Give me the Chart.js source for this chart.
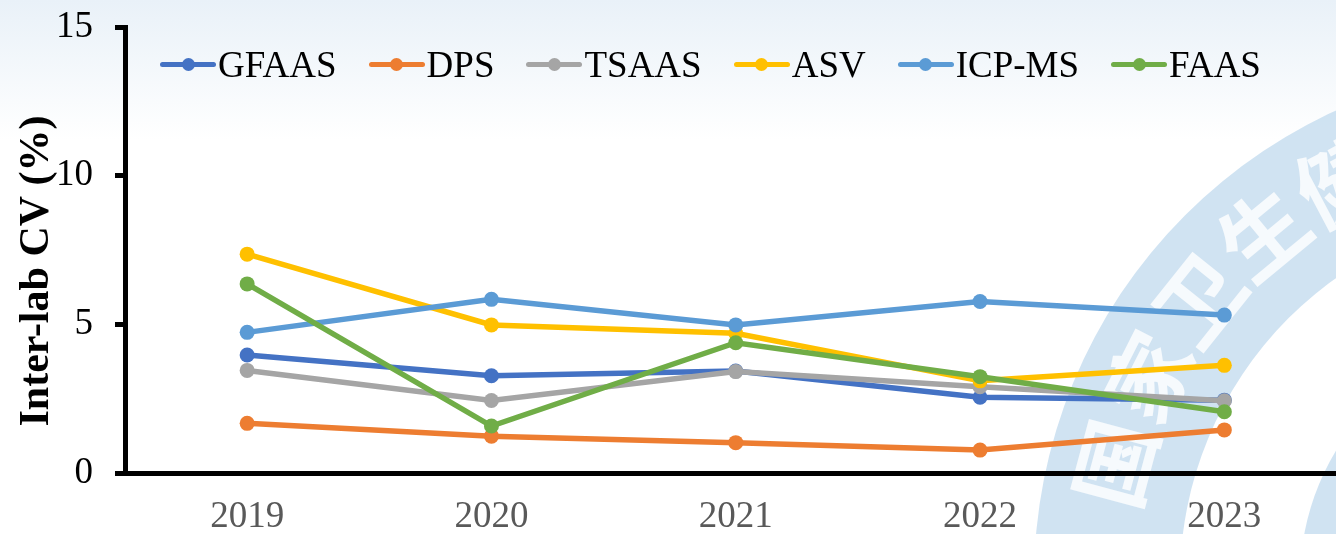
<!DOCTYPE html>
<html>
<head>
<meta charset="utf-8">
<script src="https://cdn.jsdelivr.net/npm/chart.js@4.4.1/dist/chart.umd.min.js"></script>
<style>
  html, body { margin: 0; padding: 0; overflow: hidden; background: #fff; }
  #wrap { position: relative; width: 1354px; height: 534px; }
  #legend { position: absolute; left: 160px; top: 42px; height: 44px; display: flex; align-items: center;
            font: 37px "Liberation Serif", "Times New Roman", serif; color: #000; white-space: nowrap; }
  .item { display: flex; align-items: center; margin-right: 32px; }
  .mark { position: relative; width: 56px; height: 13px; margin-right: 2px; }
  .mark .ln { position: absolute; left: 0; top: 4px; width: 56px; height: 5px; border-radius: 2.5px; }
  .mark .dt { position: absolute; left: 21.5px; top: 0; width: 13px; height: 13px; border-radius: 50%; }
</style>
</head>
<body>
<div id="wrap">
  <canvas id="cvChart" width="1354" height="534"></canvas>
  <div id="legend"></div>
</div>
<script>
// data
const years = ['2019', '2020', '2021', '2022', '2023'];
const seriesNames = ['GFAAS', 'DPS', 'TSAAS', 'ASV', 'ICP-MS', 'FAAS'];
const gfaas = [3.97, 3.27, 3.43, 2.55, 2.45];
const dps   = [1.67, 1.24, 1.02, 0.77, 1.45];
const tsaas = [3.45, 2.44, 3.41, 2.90, 2.43];
const asv   = [7.36, 4.98, 4.70, 3.10, 3.62];
const icpms = [4.73, 5.84, 4.98, 5.77, 5.31];
const faas  = [6.36, 1.58, 4.38, 3.24, 2.06];
const yTicks = [0, 5, 10, 15];
const colors = ['#4472C4', '#ED7D31', '#A5A5A5', '#FFC000', '#5B9BD5', '#70AD47'];
const allValues = [gfaas, dps, tsaas, asv, icpms, faas];

// faint seal watermark + light top wash behind the plot
const backdrop = {
  id: 'backdrop',
  beforeDraw(chart){
    const ctx = chart.ctx, w = chart.width, h = chart.height;
    ctx.save();
    const g = ctx.createLinearGradient(0, 0, 0, 140);
    g.addColorStop(0, '#e9f1f8');
    g.addColorStop(1, '#ffffff');
    ctx.fillStyle = g;
    ctx.fillRect(0, 0, w, h);

    const cx = 1550, cy = 580;
    ctx.fillStyle = 'rgba(190,216,237,0.72)';
    ctx.beginPath();
    ctx.arc(cx, cy, 516, 0, Math.PI * 2);
    ctx.arc(cx, cy, 370, 0, Math.PI * 2, true);
    ctx.fill();
    ctx.beginPath();
    ctx.arc(cx, cy, 250, 0, Math.PI * 2);
    ctx.arc(cx, cy, 190, 0, Math.PI * 2, true);
    ctx.fill();

    const chars = ['国', '家', '卫', '生', '健', '康'];
    ctx.fillStyle = 'rgba(255,255,255,0.8)';
    ctx.font = 'bold 86px "Noto Sans CJK SC"';
    ctx.textAlign = 'center';
    ctx.textBaseline = 'middle';
    chars.forEach((c, i) => {
      const th = (-165 + i * 11.8) * Math.PI / 180;
      ctx.save();
      ctx.translate(cx + 450 * Math.cos(th), cy + 450 * Math.sin(th));
      ctx.rotate(th + Math.PI / 2);
      ctx.fillText(c, 0, 0);
      ctx.restore();
    });
    ctx.restore();
  }
};

const datasets = seriesNames.map((name, i) => ({
  label: name,
  data: allValues[i],
  borderColor: colors[i],
  backgroundColor: colors[i],
  pointBackgroundColor: colors[i],
  pointBorderWidth: 0,
  pointRadius: 7.5,
  borderWidth: 5.5,
  tension: 0,
  order: seriesNames.length - 1 - i
}));

const ctx = document.getElementById('cvChart').getContext('2d');
const chart = new Chart(ctx, {
  type: 'line',
  data: { labels: years, datasets: datasets },
  options: {
    responsive: false,
    animation: false,
    devicePixelRatio: 1,
    layout: { padding: { top: 27, left: 0, right: 0, bottom: 0 } },
    plugins: { legend: { display: false }, tooltip: { enabled: false } },
    scales: {
      x: {
        offset: true,
        grid: { display: false, drawTicks: false },
        border: { display: true, color: '#000', width: 5 },
        ticks: { color: '#595959', padding: 22, font: { family: '"Liberation Serif"', size: 37 } },
        afterFit(scale){ scale.height = 61; }
      },
      y: {
        min: 0, max: 15,
        afterBuildTicks(scale){ scale.ticks = yTicks.map(v => ({ value: v })); },
        grid: { drawOnChartArea: false, drawTicks: true, tickLength: 10, tickWidth: 5, tickColor: '#000' },
        border: { display: true, color: '#000', width: 5 },
        ticks: { color: '#000', padding: 22, font: { family: '"Liberation Serif"', size: 37 } },
        title: {
          display: true,
          text: 'Inter-lab CV (%)\u00A0\u00A0\u00A0\u00A0',
          color: '#000',
          padding: { top: 12, bottom: 0 },
          font: { family: '"Liberation Serif"', size: 42, weight: 'bold' }
        },
        afterFit(scale){ scale.width = 125; scale.paddingTop = 0; scale.paddingBottom = 0; }
      }
    }
  },
  plugins: [backdrop]
});

// html legend built from the datasets
const legendEl = document.getElementById('legend');
chart.data.datasets.forEach(ds => {
  const item = document.createElement('div');
  item.className = 'item';
  item.innerHTML = '<span class="mark"><span class="ln" style="background:' + ds.borderColor + '"></span>' +
    '<span class="dt" style="background:' + ds.borderColor + '"></span></span><span>' + ds.label + '</span>';
  legendEl.appendChild(item);
});
</script>
</body>
</html>
